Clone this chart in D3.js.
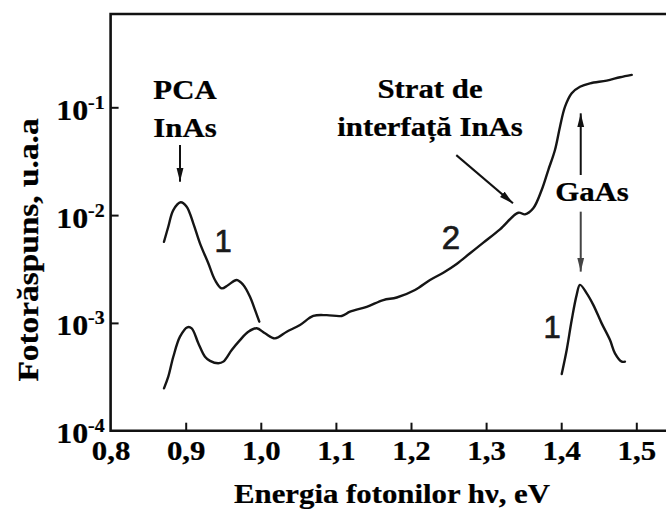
<!DOCTYPE html>
<html>
<head>
<meta charset="utf-8">
<script src="https://cdn.jsdelivr.net/npm/d3@7"></script>
<style>
  body { margin: 0; background: #fff; }
  svg text { font-family: "Liberation Serif", "Times New Roman", serif; font-weight: bold; fill: #000; stroke: #000; stroke-width: 0.25px; }
  svg text.curve-id { font-family: "Liberation Sans", Arial, sans-serif; font-weight: normal; fill: #1a1a1a; stroke: #1a1a1a; stroke-width: 0.7px; }
</style>
</head>
<body>
<svg id="chart" width="666" height="511"></svg>
<script>
// Axis ticks
const xTicks = [0.8, 0.9, 1.0, 1.1, 1.2, 1.3, 1.4, 1.5];
const yExponents = [-4, -3, -2, -1];

// Curve 1, low-energy band (InAs quantum dots)
const curve1aEnergy = [0.8711, 0.8768, 0.8835, 0.8933, 0.9013, 0.9101, 0.9190, 0.9301,
  0.9390, 0.9479, 0.9567, 0.9679, 0.9767, 0.9856, 0.9923, 0.9980];
const curve1aSignal = [5.66e-3, 7.80e-3, 1.114e-2, 1.316e-2, 1.197e-2, 8.39e-3, 5.47e-3, 3.57e-3,
  2.50e-3, 2.09e-3, 2.25e-3, 2.50e-3, 2.25e-3, 1.75e-3, 1.32e-3, 1.026e-3];

// Curve 1, GaAs band-edge peak
const curve1bEnergy = [1.4007, 1.4073, 1.4140, 1.4206, 1.4250, 1.4340, 1.4427, 1.4539,
  1.4650, 1.4716, 1.4806, 1.4849];
const curve1bSignal = [3.36e-4, 5.61e-4, 1.064e-3, 1.82e-3, 2.25e-3, 1.88e-3, 1.47e-3, 9.9e-4,
  6.93e-4, 5.22e-4, 4.37e-4, 4.37e-4];

// Curve 2, full spectrum
const curve2Energy = [0.8711, 0.8768, 0.8835, 0.8924, 0.9021, 0.9080, 0.9168, 0.9257, 0.9324,
  0.9434, 0.9501, 0.9613, 0.9723, 0.9834, 0.9945, 1.0056, 1.0189, 1.0345, 1.0522, 1.0699,
  1.0878, 1.1077, 1.1188, 1.1410, 1.1631, 1.1810, 1.2053, 1.2253, 1.2430, 1.2608, 1.2786,
  1.2963, 1.3185, 1.3429, 1.3518, 1.3628, 1.3740, 1.3828, 1.3917, 1.3984, 1.4051, 1.4140,
  1.4250, 1.4384, 1.4606, 1.4783, 1.4939];
const curve2Signal = [2.47e-4, 3.17e-4, 4.85e-4, 7.45e-4, 9.10e-4, 8.91e-4, 6.47e-4, 4.85e-4, 4.44e-4,
  4.22e-4, 4.37e-4, 5.61e-4, 6.93e-4, 8.28e-4, 8.91e-4, 8.01e-4, 7.19e-4, 8.28e-4, 9.57e-4, 1.16e-3,
  1.18e-3, 1.16e-3, 1.27e-3, 1.41e-3, 1.63e-3, 1.72e-3, 2.02e-3, 2.50e-3, 2.92e-3, 3.52e-3, 4.43e-3,
  5.55e-3, 7.38e-3, 1.052e-2, 1.016e-2, 1.156e-2, 1.71e-2, 2.62e-2, 4.02e-2, 6.61e-2, 0.1014, 0.135,
  0.155, 0.167, 0.177, 0.190, 0.200];

const W = 666, H = 511;
const plotLeft = 110.6, plotTop = 14, plotBottom = 430.7;
const svg = d3.select("#chart");

const x = d3.scaleLinear().domain([0.8, 1.5]).range([plotLeft, 636.3]);
const y = d3.scaleLog().domain([1e-4, 1e-1]).range([plotBottom, 107.3]);

const stretch = 1.1; // glyphs are set slightly wide

// Arrowhead markers (path points along +x, oriented by the line)
const defs = svg.append("defs");
function arrowMarker(id, color) {
  defs.append("marker")
    .attr("id", id)
    .attr("viewBox", "0 0 14 8")
    .attr("refX", 14).attr("refY", 4)
    .attr("markerWidth", 14).attr("markerHeight", 8)
    .attr("markerUnits", "userSpaceOnUse")
    .attr("orient", "auto")
    .append("path")
    .attr("d", "M0,0.5 L14,4 L0,7.5 Z")
    .attr("fill", color);
}
arrowMarker("arrowBlack", "#111");
arrowMarker("arrowGray", "#444");

// Frame: left, bottom and top lines
svg.append("path")
  .attr("d", `M${W},${plotTop} H${plotLeft} V${plotBottom} H${W}`)
  .attr("fill", "none").attr("stroke", "#111").attr("stroke-width", 2.6);

// X axis (ticks point inward)
const xAxis = d3.axisBottom(x)
  .tickValues(xTicks)
  .tickSize(-8)
  .tickSizeOuter(0)
  .tickFormat(d => d3.format(".1f")(d).replace(".", ","));
const gx = svg.append("g").attr("transform", `translate(0,${plotBottom})`).call(xAxis);
gx.select(".domain").remove();
gx.selectAll(".tick line").attr("stroke", "#111").attr("stroke-width", 2);
gx.selectAll(".tick line").filter(d => d === 0.8).remove();
gx.selectAll(".tick text")
  .attr("y", 0).attr("dy", 0)
  .attr("transform", `translate(0,29) scale(${stretch},1)`)
  .style("font-size", "28px")
  .style("font-family", "Liberation Serif, serif")
  .style("font-weight", "bold")
  .attr("fill", "#000");

// Y axis (log, labels as powers of ten)
const yAxis = d3.axisLeft(y)
  .tickValues(yExponents.map(e => Math.pow(10, e)))
  .tickSize(-8)
  .tickSizeOuter(0)
  .tickFormat("");
const gy = svg.append("g").attr("transform", `translate(${plotLeft},0)`).call(yAxis);
gy.select(".domain").remove();
gy.selectAll(".tick line").attr("stroke", "#111").attr("stroke-width", 2);
gy.selectAll(".tick line").filter(d => d === 1e-4).remove();
gy.selectAll(".tick").each(function (d) {
  const e = Math.round(Math.log10(d));
  const t = d3.select(this).append("text")
    .attr("text-anchor", "end")
    .attr("transform", `translate(-6,12) scale(${stretch},1)`)
    .style("font-size", "29px");
  t.append("tspan").text("10");
  t.append("tspan").attr("dy", -11).style("font-size", "18px").text(String(e));
});

// Axis titles
svg.append("text")
  .attr("text-anchor", "middle")
  .attr("transform", `translate(392,503) scale(${stretch},1)`)
  .style("font-size", "28px")
  .text("Energia fotonilor h\u03BD, eV");
svg.append("text")
  .attr("text-anchor", "middle")
  .attr("transform", `translate(38,250) rotate(-90) scale(1.15,1)`)
  .style("font-size", "29px")
  .text("Fotorăspuns, u.a.a");

// Spectra
const line = d3.line()
  .x(d => x(d[0]))
  .y(d => y(d[1]))
  .curve(d3.curveCatmullRom.alpha(0.5));
const series = [
  [curve1aEnergy, curve1aSignal],
  [curve1bEnergy, curve1bSignal],
  [curve2Energy, curve2Signal]
];
svg.append("g").selectAll("path")
  .data(series.map(([e, s]) => d3.zip(e, s)))
  .join("path")
  .attr("d", line)
  .attr("fill", "none")
  .attr("stroke", "#151515")
  .attr("stroke-width", 2.4)
  .attr("stroke-linejoin", "round")
  .attr("stroke-linecap", "round");

// Annotation arrows, in data coordinates
const arrows = [
  { from: [0.8924, 0.0447], to: [0.8924, 0.0204], m: "arrowBlack" },
  { from: [1.2603, 0.0360], to: [1.3358, 0.01285], m: "arrowBlack" },
  { from: [1.4260, 0.02355], to: [1.4260, 0.0879], m: "arrowBlack" },
  { from: [1.4260, 0.01076], to: [1.4260, 0.00299], m: "arrowGray" }
];
svg.append("g").selectAll("line")
  .data(arrows)
  .join("line")
  .attr("x1", d => x(d.from[0])).attr("y1", d => y(d.from[1]))
  .attr("x2", d => x(d.to[0])).attr("y2", d => y(d.to[1]))
  .attr("stroke", d => d.m === "arrowGray" ? "#444" : "#111")
  .attr("stroke-width", 2)
  .attr("marker-end", d => `url(#${d.m})`);

// Text annotations
function label(txt, px, py, cls, size) {
  svg.append("text")
    .attr("class", cls || null)
    .attr("text-anchor", "middle")
    .attr("transform", `translate(${px},${py}) scale(${cls ? 1 : stretch},1)`)
    .style("font-size", size + "px")
    .text(txt);
}
label("PCA", 185, 99, null, 28);
label("InAs", 185, 137, null, 28);
label("Strat de", 430, 98, null, 28);
label("interfață InAs", 430, 136, null, 28);
label("GaAs", 592, 201, null, 28);
label("1", 223, 252, "curve-id", 31);
label("2", 451, 249, "curve-id", 33);
label("1", 552, 338, "curve-id", 31);
</script>
</body>
</html>
